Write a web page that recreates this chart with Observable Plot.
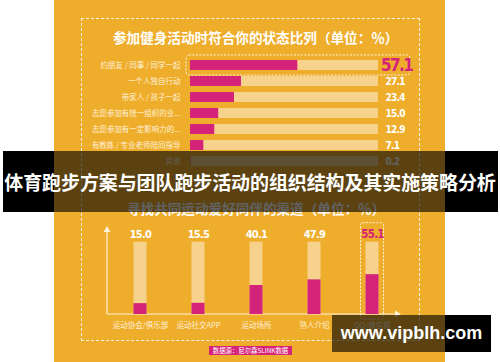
<!DOCTYPE html>
<html>
<head>
<meta charset="utf-8">
<script src="https://cdn.jsdelivr.net/npm/d3@7"></script>
<script src="https://cdn.jsdelivr.net/npm/@observablehq/plot@0.6"></script>
<style>
  html, body { margin: 0; padding: 0; background: #ffffff; }
  #root { position: relative; width: 500px; height: 362px; overflow: hidden; background: #ffffff; font-family: "Noto Sans CJK SC", "Noto Sans", sans-serif; }
  .abs { position: absolute; }
  #panel { left: 54px; top: 0; width: 391px; height: 362px; background: #EFAD2C; }
  #dash { left: 27px; top: 18px; width: 337px; height: 321px; border: 1px dashed rgba(255,255,255,0.85); }
  .title { color: #ffffff; font-weight: 700; font-size: 13.6px; white-space: nowrap; line-height: 1; }
  .plot svg { overflow: visible; }
  .plot g[font-family*="Condensed"] { letter-spacing: -0.7px; font-stretch: condensed; }
  .plot g[font-family*="Condensed"][font-size="17"] { letter-spacing: -1.6px; }
</style>
</head>
<body>
<div id="root">
  <div id="panel" class="abs">
    <div id="dash" class="abs"></div>
    <div id="t1" class="abs title" style="left:59px; top:31px;"></div>
    <div id="chart1" class="abs plot" style="left:0; top:52.6px;"></div>
    <div id="t2" class="abs title" style="left:73px; top:202px;"></div>
    <div id="chart2" class="abs plot" style="left:0; top:220px;"></div>
    <div id="src" class="abs" style="left:155px; top:345.5px; width:83px; height:9px; background:#D6237A; color:#fff; font-size:6.4px; line-height:9px; text-align:center; white-space:nowrap;"></div>
  </div>
  <!-- banner -->
  <div class="abs" style="left:3px; top:151px; width:495px; height:61px; background:rgba(0,0,0,0.62);"></div>
  <div class="abs" style="left:3px; top:151px; width:51px; height:61px; background:#000;"></div>
  <div class="abs" style="left:445px; top:151px; width:53px; height:61px; background:#000;"></div>
  <div id="banner" class="abs" style="left:0; top:151px; width:500px; height:61px; display:flex; align-items:center; justify-content:center; color:#fff; font-weight:700; font-size:19px; white-space:nowrap; letter-spacing:-0.1px;"></div>
  <!-- watermark -->
  <div class="abs" style="left:332px; top:315px; width:159px; height:37px; background:rgba(0,0,0,0.62);"></div>
  <div class="abs" style="left:445px; top:315px; width:46px; height:37px; background:#000;"></div>
  <div id="wm" class="abs" style="left:332px; top:315px; width:159px; height:37px; display:flex; align-items:center; justify-content:center; color:#fff; font-family:'Liberation Sans', Arial, sans-serif; font-weight:700; font-size:18px;"></div>
</div>
<script>
// ---- data ----
const title1 = "参加健身活动时符合你的状态比列（单位：％）";
const states = ["约朋友 / 同事 / 同学一起", "一个人独自行动", "带家人 / 孩子一起", "志愿参加有统一组织的业...", "志愿参加有一定影响力的...", "有教练 / 专业老师陪同指导", "其他"];
const stateValues = [57.1, 27.1, 23.4, 15.0, 12.9, 7.1, 0.2];

const title2 = "寻找共同运动爱好同伴的渠道（单位：％）";
const channels = ["运动协会/俱乐部", "运动社交APP", "运动场所", "熟人介绍", "QQ/微信群"];
const channelValues = [15.0, 15.5, 40.1, 47.9, 55.1];

const bannerText = "体育跑步方案与团队跑步活动的组织结构及其实施策略分析";
const sourceText = "数据源：尼尔森SLINK数据";
const watermarkText = "www.vipblh.com";

// ---- styles ----
const PINK = "#D6237A";
const TRACK = "#F7D28C";
const LABEL = "#FFF1D8";
const NUMFONT = "'DejaVu Sans Condensed', 'Liberation Sans Narrow', sans-serif";

document.getElementById("t1").textContent = title1;
document.getElementById("t2").textContent = title2;
document.getElementById("banner").textContent = bannerText;
document.getElementById("src").textContent = sourceText;
document.getElementById("wm").textContent = watermarkText;

const d1 = states.map((s, i) => ({cat: s, v: stateValues[i]}));
const max1 = d3.max(stateValues);
const hi1 = d1.filter(d => d.v === max1);
const lo1 = d1.filter(d => d.v !== max1);

const chart1 = Plot.plot({
  width: 391,
  height: 120.7,
  marginLeft: 136,
  marginRight: 67,
  marginTop: 0,
  marginBottom: 0,
  style: {background: "transparent", color: LABEL, fontSize: "7.5px", fontFamily: "'Noto Sans CJK SC', sans-serif", overflow: "visible"},
  x: {domain: [0, 100], axis: null},
  y: {domain: states, padding: 0.39, tickSize: 0, tickPadding: 10, label: null},
  marks: [
    Plot.barX(d1, {x1: 0, x2: 100, y: "cat", fill: TRACK}),
    Plot.barX(d1, {x: "v", y: "cat", fill: PINK}),
    Plot.barX(hi1, {x1: 0, x2: 100, y: "cat", fill: "none", stroke: "#FFFFFF", strokeOpacity: 0.85, strokeWidth: 1, strokeDasharray: "2,1.5", rx: 3, insetLeft: -4, insetRight: -32, insetTop: -5, insetBottom: -5}),
    Plot.text(lo1, {x: 100, y: "cat", text: d => d.v.toFixed(1), dx: 7, textAnchor: "start", fill: "#FFFFFF", fontSize: 10, fontWeight: "bold", fontFamily: NUMFONT}),
    Plot.text(hi1, {x: 100, y: "cat", text: d => d.v.toFixed(1), dx: 2.5, textAnchor: "start", fill: PINK, fontSize: 17, fontWeight: "bold", fontFamily: NUMFONT})
  ]
});
document.getElementById("chart1").appendChild(chart1);

const d2 = channels.map((c, i) => ({cat: c, v: channelValues[i]}));
const max2 = d3.max(channelValues);
const hi2 = d2.filter(d => d.v === max2);
const lo2 = d2.filter(d => d.v !== max2);

function axisArrows(index, scales, values, dims) {
  const g = d3.create("svg:g").attr("stroke", "#FFF1D8").attr("fill", "#FFF1D8");
  const x0 = dims.marginLeft, y0 = dims.height - dims.marginBottom;
  const xt = dims.width - dims.marginRight, yt = dims.marginTop;
  g.append("line").attr("x1", x0).attr("y1", y0).attr("x2", x0).attr("y2", yt + 3).attr("stroke-width", 1.2);
  g.append("line").attr("x1", x0).attr("y1", y0).attr("x2", xt - 3).attr("y2", y0).attr("stroke-width", 1.2);
  g.append("path").attr("stroke", "none").attr("d", `M${x0 - 3.5},${yt + 5}L${x0},${yt - 1}L${x0 + 3.5},${yt + 5}Z`);
  g.append("path").attr("stroke", "none").attr("d", `M${xt - 5},${y0 - 3.5}L${xt + 1},${y0}L${xt - 5},${y0 + 3.5}Z`);
  return g.node();
}

const chart2 = Plot.plot({
  width: 391,
  height: 120,
  marginLeft: 53,
  marginRight: 45,
  marginTop: 7,
  marginBottom: 26,
  style: {background: "transparent", color: LABEL, fontSize: "7.5px", fontFamily: "'Noto Sans CJK SC', sans-serif", overflow: "visible"},
  x: {domain: channels, range: [57, 347], padding: 0, tickSize: 0, tickPadding: 8, label: null},
  y: {domain: [0, 100], range: [94, 21.7], axis: null},
  marks: [
    axisArrows,
    Plot.barY(d2, {x: "cat", y1: 0, y2: 100, fill: TRACK, insetLeft: 22.5, insetRight: 22.5}),
    Plot.barY(d2, {x: "cat", y: "v", fill: PINK, insetLeft: 22.5, insetRight: 22.5}),
    Plot.barY(hi2, {x: "cat", y1: 0, y2: 100, fill: "none", stroke: "#FFFFFF", strokeOpacity: 0.85, strokeWidth: 1, strokeDasharray: "2,1.5", rx: 2, insetLeft: 17.5, insetRight: 17.5, insetTop: -19, insetBottom: -5}),
    Plot.text(lo2, {x: "cat", y: 100, text: d => d.v.toFixed(1), dy: -8, fill: "#FFFFFF", fontSize: 11, fontWeight: "bold", fontFamily: NUMFONT}),
    Plot.text(hi2, {x: "cat", y: 100, text: d => d.v.toFixed(1), dy: -8, fill: PINK, fontSize: 11.5, fontWeight: "bold", fontFamily: NUMFONT})
  ]
});
document.getElementById("chart2").appendChild(chart2);
</script>
</body>
</html>
